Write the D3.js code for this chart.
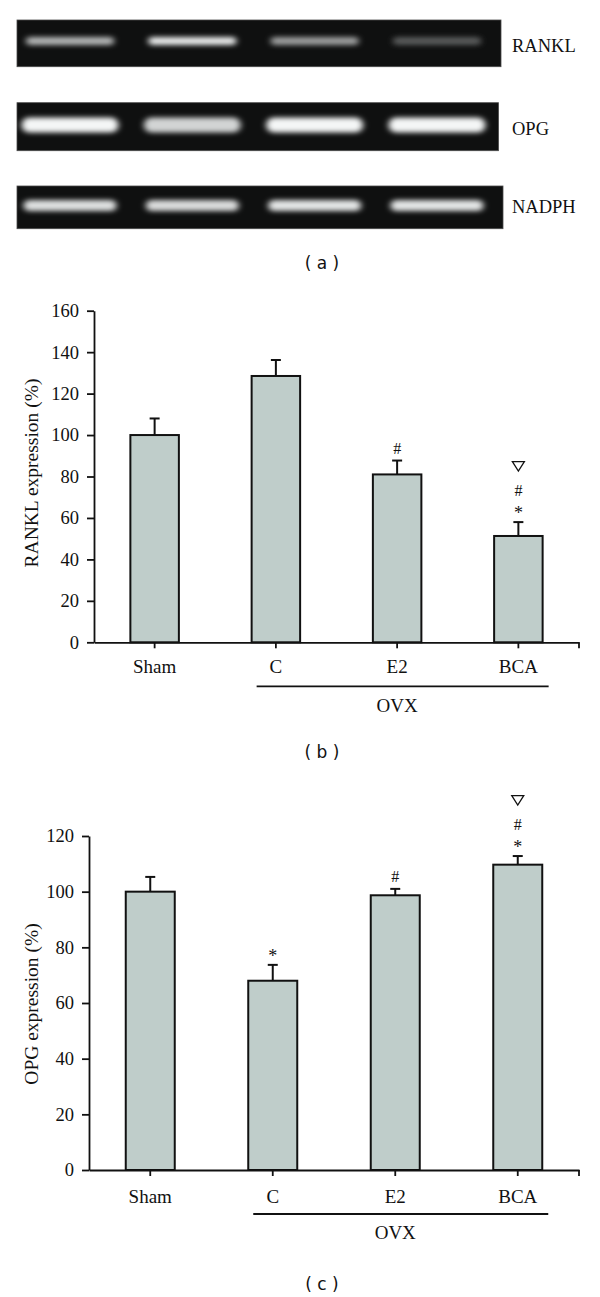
<!DOCTYPE html>
<html>
<head>
<meta charset="utf-8">
<script src="https://cdn.jsdelivr.net/npm/d3@7"></script>
<style>
  html, body { margin: 0; padding: 0; background: #fff; }
  svg { display: block; }
</style>
</head>
<body>
<script>
// ---------- DATA ----------
const categories = ["Sham", "C", "E2", "BCA"];
const ovxGroup = ["C", "E2", "BCA"];
const ovxLabel = "OVX";

const ranklValues = [100, 128.5, 81, 51.3];
const ranklErrors = [8, 7.7, 6.7, 6.7];
const ranklTicks = [0, 20, 40, 60, 80, 100, 120, 140, 160];
const ranklMarks = [[], [], ["#"], ["*", "#", "▽"]];

const opgValues = [100, 68, 98.7, 109.7];
const opgErrors = [5.3, 5.7, 2.3, 3.1];
const opgTicks = [0, 20, 40, 60, 80, 100, 120];
const opgMarks = [[], ["*"], ["#"], ["*", "#", "▽"]];

const gelGenes = ["RANKL", "OPG", "NADPH"];
const gelLanes = ["Sham", "C", "E2", "BCA"];
const ranklBand = [0.72, 0.95, 0.62, 0.32];
const opgBand = [1.0, 0.85, 1.0, 1.0];
const nadphBand = [0.9, 0.88, 0.92, 0.92];

// ---------- SETUP ----------
const W = 600, H = 1297;
const serif = "'Liberation Serif', 'Times New Roman', serif";
const sans = "'DejaVu Sans', Verdana, sans-serif";
const ink = "#111";
const barFill = "#bfcdca";

const svg = d3.select("body").append("svg")
  .attr("width", W).attr("height", H)
  .attr("viewBox", `0 0 ${W} ${H}`);
svg.append("rect").attr("width", W).attr("height", H).attr("fill", "#fff");

const defs = svg.append("defs");
const blur = defs.append("filter").attr("id", "bandBlur")
  .attr("x", "-20%").attr("y", "-150%").attr("width", "140%").attr("height", "400%");
blur.append("feGaussianBlur").attr("stdDeviation", "3 2.6");

// ---------- PANEL (a): GEL ----------
const gelPanels = [
  { gene: "RANKL", vals: ranklBand, top: 20, bottom: 66.7, right: 501, cy: 41, bw: 88, bh: 8, ly: 45 },
  { gene: "OPG", vals: opgBand, top: 102.7, bottom: 150.7, right: 498.5, cy: 125, bw: 97, bh: 15, ly: 128 },
  { gene: "NADPH", vals: nadphBand, top: 186, bottom: 228.7, right: 503, cy: 205.5, bw: 93, bh: 11, ly: 206.7 }
];
const laneX = d3.scalePoint().domain(gelLanes).range([70, 437]);

gelPanels.forEach(p => {
  const g = svg.append("g");
  g.append("rect")
    .attr("x", 17).attr("y", p.top)
    .attr("width", p.right - 17).attr("height", p.bottom - p.top)
    .attr("fill", "#0f1010").attr("stroke", "#4a4a4a").attr("stroke-width", 0.8);
  g.selectAll("rect.band").data(gelLanes).join("rect")
    .attr("class", "band")
    .attr("x", d => laneX(d) - p.bw / 2)
    .attr("y", p.cy - p.bh / 2)
    .attr("width", p.bw).attr("height", p.bh)
    .attr("rx", p.bh / 2)
    .attr("fill", (d, i) => d3.interpolateRgb("#0f1010", "#f4f6f6")(p.vals[i]))
    .attr("filter", "url(#bandBlur)");
  svg.append("text")
    .attr("x", 512).attr("y", p.ly + 6.5)
    .attr("font-family", serif).attr("font-size", 18.5).attr("fill", ink)
    .text(p.gene);
});

function panelLabel(letter, cy) {
  svg.append("text")
    .attr("x", 322).attr("y", cy)
    .attr("text-anchor", "middle").attr("dominant-baseline", "central")
    .attr("font-family", sans).attr("font-size", 17).attr("fill", ink)
    .attr("xml:space", "preserve")
    .text(`( ${letter} )`);
}
panelLabel("a", 263);

// ---------- BAR CHART FUNCTION ----------
function barChart(cfg) {
  const x = d3.scaleBand().domain(categories)
    .range([cfg.x0, cfg.x1]).paddingInner(0.6).paddingOuter(0.3);
  const y = d3.scaleLinear().domain([0, cfg.ymax]).range([cfg.yBottom, cfg.yTop]);
  const g = svg.append("g");
  const data = categories.map((c, i) => ({ c, v: cfg.values[i], e: cfg.errors[i], m: cfg.marks[i] }));

  // error bars (behind bars)
  const eb = g.append("g");
  eb.selectAll("line.stem").data(data).join("line")
    .attr("x1", d => x(d.c) + x.bandwidth() / 2).attr("x2", d => x(d.c) + x.bandwidth() / 2)
    .attr("y1", d => y(d.v)).attr("y2", d => y(d.v + d.e))
    .attr("stroke", ink).attr("stroke-width", 2);
  eb.selectAll("line.cap").data(data).join("line")
    .attr("x1", d => x(d.c) + x.bandwidth() / 2 - 5).attr("x2", d => x(d.c) + x.bandwidth() / 2 + 5)
    .attr("y1", d => y(d.v + d.e)).attr("y2", d => y(d.v + d.e))
    .attr("stroke", ink).attr("stroke-width", 2);

  // bars
  g.selectAll("rect.bar").data(data).join("rect")
    .attr("class", "bar")
    .attr("x", d => x(d.c)).attr("y", d => y(d.v))
    .attr("width", x.bandwidth()).attr("height", d => y(0) - y(d.v))
    .attr("fill", barFill).attr("stroke", ink).attr("stroke-width", 2);

  // significance marks
  const offsets = [12, 32, 56];
  data.forEach(d => {
    const cx = x(d.c) + x.bandwidth() / 2;
    const top = y(d.v + d.e);
    d.m.forEach((s, k) => {
      const cy = top - offsets[k];
      if (s === "▽") {
        g.append("path")
          .attr("d", `M${cx - 6},${cy - 4.5} L${cx + 6},${cy - 4.5} L${cx},${cy + 5} Z`)
          .attr("fill", "none").attr("stroke", ink).attr("stroke-width", 1.3);
      } else {
        g.append("text")
          .attr("x", cx).attr("y", cy + (s === "*" ? 9 : 5.5))
          .attr("text-anchor", "middle")
          .attr("font-family", serif).attr("font-size", s === "*" ? 18 : 16).attr("fill", ink)
          .text(s);
      }
    });
  });

  // y axis
  const yAxis = d3.axisLeft(y).tickValues(cfg.ticks).tickSize(7).tickSizeOuter(0).tickPadding(8)
    .tickFormat(d3.format("d"));
  const ya = g.append("g").attr("transform", `translate(${cfg.x0},0)`).call(yAxis);
  ya.select(".domain").attr("stroke", ink).attr("stroke-width", 1.8);
  ya.selectAll(".tick line").attr("stroke", ink).attr("stroke-width", 1.8);
  ya.selectAll(".tick text").attr("font-family", serif).attr("font-size", 18.5).attr("fill", ink);

  // x axis
  const xAxis = d3.axisBottom(x).tickSize(6).tickSizeOuter(0).tickFormat("");
  const xa = g.append("g").attr("transform", `translate(0,${cfg.yBottom})`).call(xAxis);
  xa.select(".domain").attr("stroke", ink).attr("stroke-width", 1.8);
  xa.selectAll(".tick line").attr("stroke", ink).attr("stroke-width", 1.8);
  xa.append("line").attr("x1", cfg.x1).attr("x2", cfg.x1).attr("y1", 0).attr("y2", 6)
    .attr("stroke", ink).attr("stroke-width", 1.8);

  // category labels
  g.selectAll("text.cat").data(categories).join("text")
    .attr("class", "cat")
    .attr("x", d => x(d) + x.bandwidth() / 2).attr("y", cfg.yBottom + cfg.catDy)
    .attr("text-anchor", "middle")
    .attr("font-family", serif).attr("font-size", 19).attr("fill", ink)
    .text(d => d);

  // OVX group line
  const lx0 = x(ovxGroup[0]) + 5;
  const lx1 = x(ovxGroup[ovxGroup.length - 1]) + x.bandwidth() + 6;
  g.append("line").attr("x1", lx0).attr("x2", lx1)
    .attr("y1", cfg.yBottom + cfg.lineDy).attr("y2", cfg.yBottom + cfg.lineDy)
    .attr("stroke", ink).attr("stroke-width", 1.8);
  g.append("text")
    .attr("x", x("E2") + x.bandwidth() / 2).attr("y", cfg.yBottom + cfg.ovxDy)
    .attr("text-anchor", "middle")
    .attr("font-family", serif).attr("font-size", 19).attr("fill", ink)
    .text(ovxLabel);

  // y title
  g.append("text")
    .attr("transform", `translate(${cfg.titleX},${cfg.titleY}) rotate(-90)`)
    .attr("text-anchor", "middle").attr("dominant-baseline", "central")
    .attr("font-family", serif).attr("font-size", 19.5).attr("fill", ink)
    .text(cfg.title);
}

// ---------- PANEL (b) ----------
barChart({
  values: ranklValues, errors: ranklErrors, marks: ranklMarks, ticks: ranklTicks,
  ymax: 160, x0: 94, x1: 579, yBottom: 642.3, yTop: 310.7,
  catDy: 31, lineDy: 44, ovxDy: 70,
  title: "RANKL expression (%)", titleX: 31.5, titleY: 473
});
panelLabel("b", 752);

// ---------- PANEL (c) ----------
barChart({
  values: opgValues, errors: opgErrors, marks: opgMarks, ticks: opgTicks,
  ymax: 120, x0: 89, x1: 579, yBottom: 1170, yTop: 836,
  catDy: 33, lineDy: 44, ovxDy: 69,
  title: "OPG expression (%)", titleX: 31.5, titleY: 1004
});
panelLabel("c", 1284);
</script>
</body>
</html>
